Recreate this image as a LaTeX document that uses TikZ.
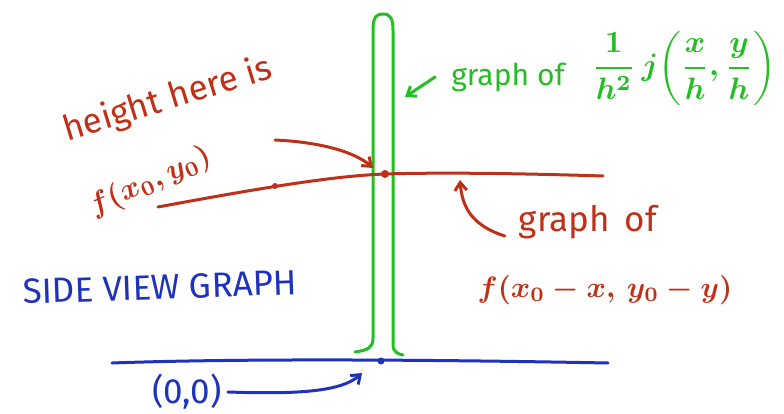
\documentclass[tikz,border=0pt]{standalone}
\usepackage{graphicx}
\usepackage{fontspec}
\setmainfont{Fira Sans}
\usetikzlibrary{arrows.meta}
\definecolor{pred}{RGB}{192,48,24}
\definecolor{pgreen}{RGB}{34,190,34}
\definecolor{pblue}{RGB}{30,50,190}
\begin{document}
\begin{tikzpicture}[x=1pt,y=-1pt, line cap=round, line join=round,
  pen/.style={line width=3pt},
  tipped/.style={-{Straight Barb[length=8pt,width=12pt,line width=3pt]}},
  lbl/.style={inner sep=0pt, font=\fontsize{30}{34}\selectfont},
  big/.style={inner sep=0pt, font=\fontsize{35}{40}\selectfont}]
\useasboundingbox (0,0) rectangle (784,414);

% green pillar
\coordinate (gl) at (355,352);
\coordinate (gr) at (403,355);
\coordinate (gtop) at (383,14);
\draw[pen,pgreen] (gl) .. controls (368,350) and (373,348) .. (373,338) -- (373,30)
  .. controls (373,16) and (377,14) .. (gtop) .. controls (390,14) and (393,18) .. (393,30)
  -- (393,345) .. controls (393,352) and (398,354) .. (gr);

% blue baseline
\coordinate (bl) at (112,363);
\coordinate (br) at (608,363);
\coordinate (origin) at (381,361);
\draw[pen,pblue] (bl) .. controls (250,358) and (450,360) .. (br);
\fill[pblue] (origin) circle (3.5);

% red graph
\coordinate (rl) at (158,207);
\coordinate (rm) at (385,174);
\coordinate (rr) at (603,176);
\coordinate (rdot) at (275,186);
\coordinate (rtip) at (373,168);
\draw[pen,pred] (rl) .. controls (250,190) and (330,176) .. (rm) .. controls (450,172) and (540,174) .. (rr);
\fill[pred] (rdot) circle (3);
\fill[pred] (rm) circle (4);

% labels
\node[big, text=pred, rotate=17] (hh) at (168,100) {height here is};
\node[inner sep=0pt, text=pred, rotate=24] (fxy) at (150,182) {\scalebox{3}{\boldmath$f(x_0,y_0)$}};
\coordinate (hstart) at (275,140);
\draw[pen,pred,tipped] (hstart) .. controls (320,142) and (355,152) .. (rtip);

\node[big, text=pred] (rg) at (588,222) {graph\, of};
\node[inner sep=0pt, text=pred] (rf) at (605,290) {\scalebox{2.95}{\boldmath$f(x_0-x,\,y_0-y)$}};
\coordinate (rup) at (460,180);
\draw[pen,pred,tipped] (rg.west) ++(-14,14) .. controls (470,225) and (462,205) .. (rup);

\node[lbl, text=pgreen] (gg) at (508,77) {graph of};
\node[inner sep=0pt, text=pgreen] (gf) at (684,68) {\scalebox{3.1}{\boldmath$\displaystyle\frac{1}{h^2}\,j\!\left(\frac{x}{h},\frac{y}{h}\right)$}};
\coordinate (gpt) at (405,97);
\draw[pen,pgreen,tipped] (gg.west) ++(-16,0) -- (gpt);

\node[big, text=pblue, rotate=2] (sv) at (160,287) {SIDE VIEW GRAPH};
\node[inner sep=0pt, font=\fontsize{35}{40}\selectfont, text=pblue] (oo) at (187,392) {(0,0)};
\coordinate (otip) at (362,373);
\draw[pen,pblue,tipped] (oo.east) ++(6,0) .. controls (290,394) and (340,393) .. (otip);
\end{tikzpicture}
\end{document}
